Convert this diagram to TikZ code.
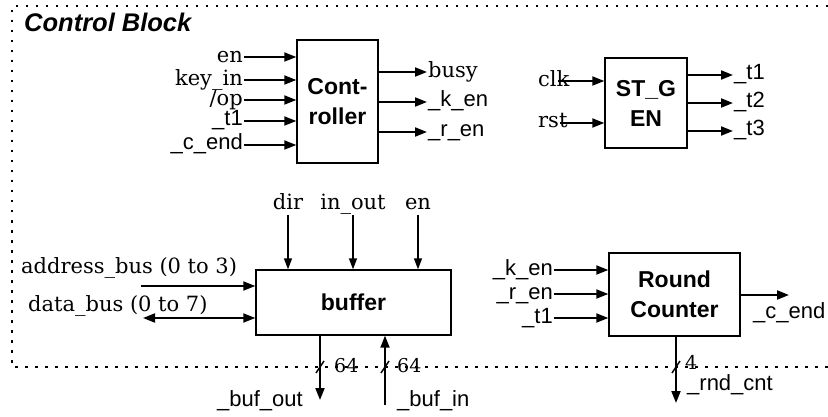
\documentclass[tikz,border=0pt]{standalone}
\usepackage{fontspec}
\usetikzlibrary{arrows.meta}
\newfontfamily\serf{DejaVu Serif}
\newfontfamily\sanf{Liberation Sans}
\tikzset{
  box/.style={draw, line width=1.4pt, inner sep=0pt, align=center,
    font=\sanf\bfseries\fontsize{23}{30}\selectfont},
  slab/.style={inner sep=1pt, text height=15pt, text depth=4pt,
    font=\serf\fontsize{21}{24}\selectfont},
  alab/.style={inner sep=1pt, text height=15pt, text depth=5pt,
    font=\sanf\fontsize{22}{24}\selectfont},
  nlab/.style={inner sep=1pt, font=\serf\fontsize{19}{20}\selectfont},
  arr/.style={line width=1.9pt, -{Triangle[length=12pt,width=9pt]}},
  darr/.style={line width=1.9pt, {Triangle[length=12pt,width=9pt]}-{Triangle[length=12pt,width=9pt]}},
  tarr/.style={line width=1.4pt, -{Triangle[length=11pt,width=8pt]}},
  dotframe/.style={line width=2.4pt, dash pattern=on 2.5pt off 7.5pt},
  slash/.style={line width=1.4pt},
}
\begin{document}
\begin{tikzpicture}[x=1pt,y=-1pt]
\useasboundingbox (0,0) rectangle (828,417);
% frame
\draw[dotframe] (828,6) -- (12,6) -- (12,367) -- (828,367);
\node[anchor=base west, inner sep=0pt, font=\sanf\bfseries\itshape\fontsize{25.5}{27}\selectfont] (title) at (24,32) {Control Block};

% Controller
\node[box, minimum width=81pt, minimum height=123pt] (ctrl) at (337.5,101.5) {Cont-\\roller};
\node[slab, anchor=east] (c_en) at (244,57) {en};
\node[slab, anchor=east] (c_key) at (244,80) {key\_in};
\node[slab, anchor=east] (c_op) at (244,100) {/op};
\node[alab, anchor=east] (c_t1) at (244,121) {\_t1};
\node[alab, anchor=east] (c_cend) at (244,145) {\_c\_end};
\foreach \n in {c_en,c_key,c_op,c_t1,c_cend}
  \draw[arr] (\n) -- (\n -| ctrl.west);
\node[slab, anchor=west] (c_busy) at (427,72) {busy};
\node[alab, anchor=west] (c_ken) at (427,102) {\_k\_en};
\node[alab, anchor=west] (c_ren) at (427,132) {\_r\_en};
\foreach \n in {c_busy,c_ken,c_ren}
  \draw[arr] (\n -| ctrl.east) -- (\n);

% ST_GEN
\node[box, minimum width=82pt, minimum height=90pt] (stg) at (646,103) {ST\_G\\EN};
\node[slab, anchor=base west] (s_clk) at (537,87) {clk};
\node[slab, anchor=base west] (s_rst) at (537,128) {rst};
\coordinate (s_clk0) at (558,81);
\coordinate (s_rst0) at (560,123);
\draw[arr] (s_clk0) -- (s_clk0 -| stg.west);
\draw[arr] (s_rst0) -- (s_rst0 -| stg.west);
\node[alab, anchor=west] (s_t1) at (733,75) {\_t1};
\node[alab, anchor=west] (s_t2) at (733,103) {\_t2};
\node[alab, anchor=west] (s_t3) at (733,131) {\_t3};
\foreach \n in {s_t1,s_t2,s_t3}
  \draw[arr] (\n -| stg.east) -- (\n);

% buffer
\node[box, minimum width=195pt, minimum height=65pt] (buf) at (353.5,302.5) {buffer};
\node[slab] (b_dir) at (288,204) {dir};
\node[slab] (b_io) at (353,204) {in\_out};
\node[slab] (b_en) at (418,204) {en};
\foreach \n in {b_dir,b_io,b_en}
  \draw[tarr] (\n) -- (\n |- buf.north);
\node[slab, anchor=west] (b_addr) at (20,268) {address\_bus (0 to 3)};
\node[slab, anchor=west] (b_data) at (27,306) {data\_bus (0 to 7)};
\coordinate (b_addr0) at (141,286);
\coordinate (b_data0) at (143,318);
\draw[arr] (b_addr0) -- (b_addr0 -| buf.west);
\draw[darr] (b_data0) -- (b_data0 -| buf.west);
\coordinate (b_out) at (320,400);
\coordinate (b_in) at (385,405);
\draw[arr] (b_out |- buf.south) -- (b_out);
\draw[arr] (b_in) -- (b_in |- buf.south);
\draw[slash] (316,373) -- (324,361);
\draw[slash] (381,373) -- (389,361);
\node[nlab, anchor=west] (n64a) at (333,366) {64};
\node[nlab, anchor=west] (n64b) at (396,366) {64};
\node[alab, anchor=east] (l_bout) at (304,401) {\_buf\_out};
\node[alab, anchor=west] (l_bin) at (396,401) {\_buf\_in};

% Round Counter
\node[box, minimum width=131pt, minimum height=83pt] (rc) at (674.5,294.5) {Round\\Counter};
\node[alab, anchor=east] (r_ken) at (554,270) {\_k\_en};
\node[alab, anchor=east] (r_ren) at (554,294) {\_r\_en};
\node[alab, anchor=east] (r_t1) at (554,318) {\_t1};
\foreach \n in {r_ken,r_ren,r_t1}
  \draw[arr] (\n) -- (\n -| rc.west);
\coordinate (r_cend0) at (789,295);
\draw[arr] (r_cend0 -| rc.east) -- (r_cend0);
\node[alab, anchor=west] (r_cend) at (752,313) {\_c\_end};
\coordinate (r_cnt0) at (676,403);
\draw[arr] (r_cnt0 |- rc.south) -- (r_cnt0);
\draw[slash] (672,373) -- (680,361);
\node[nlab, anchor=west] (n4) at (684,362) {4};
\node[alab, anchor=west] (r_cnt) at (686,385) {\_rnd\_cnt};
\end{tikzpicture}
\end{document}
